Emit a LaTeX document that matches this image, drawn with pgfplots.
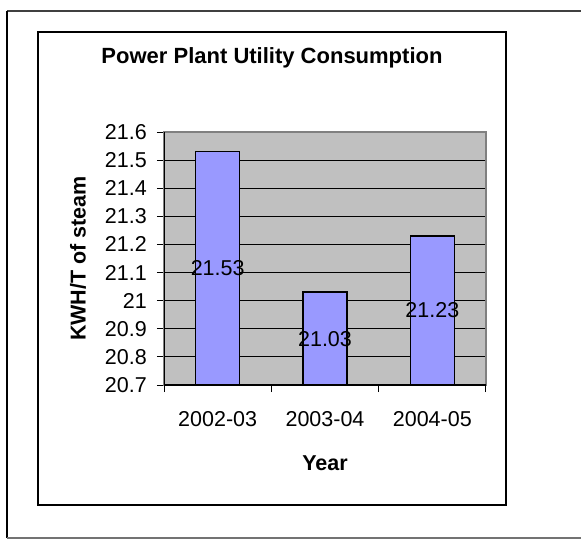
\documentclass[border=0pt]{standalone}
\usepackage{fontspec}
\setmainfont{Liberation Sans}
\usepackage{pgfplots}
\pgfplotsset{compat=1.18}
\usepackage{pgfplotstable}

\definecolor{barfill}{HTML}{9999FF}
\definecolor{plotbg}{HTML}{C0C0C0}
\newcommand{\chartfont}{\fontsize{21.5}{25}\selectfont}
\newcommand{\chartbold}{\fontsize{21.5}{25}\selectfont\bfseries}
\newcommand{\titlefont}{\fontsize{22}{26}\selectfont\bfseries}

% KWH per tonne of steam, by year
\pgfplotstableread{
x v
1 21.53
2 21.03
3 21.23
}\consumption

\begin{document}
\begin{tikzpicture}
\useasboundingbox (0pt,0pt) rectangle (581pt,539pt);
% outer frame, open on the right
\draw[line width=2pt, black!75] (581pt,528pt) -- (7pt,528pt);
\draw[line width=2pt, black] (7pt,528pt) -- (7pt,1pt);
\draw[line width=1.5pt, black!55] (7pt,1pt) -- (581pt,1pt);
% chart area
\draw[line width=1.5pt] (38pt,507pt) rectangle (506pt,34pt);

\begin{axis}[
  at={(164pt,154pt)}, anchor=south west,
  scale only axis, width=322pt, height=253pt,
  xmin=0.5, xmax=3.5, ymin=20.7, ymax=21.6,
  /pgf/number format/assume math mode=true,
  axis background/.style={fill=plotbg},
  axis line style={draw=black!50, line width=1.5pt},
  ymajorgrids, major grid style={black, line width=0.9pt},
  ytick={20.7,20.8,20.9,21,21.1,21.2,21.3,21.4,21.5,21.6},
  xtick={1,2,3}, xticklabels={2002-03,2003-04,2004-05},
  minor xtick={0.5,1.5,2.5,3.5},
  major x tick style={draw=none},
  tick align=outside, major tick length=7pt, minor tick length=7pt,
  tick style={black, line width=1pt},
  xtick pos=left, ytick pos=left,
  ticklabel style={font=\chartfont},
  xticklabel style={anchor=north, inner sep=0pt, yshift=-19pt},
  yticklabel style={anchor=east, inner sep=0pt, xshift=-10pt},
  title={Power Plant Utility Consumption},
  title style={at={(axis description cs:0.3354,1)}, anchor=base, yshift=62.7pt, inner sep=0pt, font=\titlefont},
  xlabel={Year},
  xlabel style={at={(axis description cs:0.5,0)}, anchor=base, yshift=-85.6pt, inner sep=0pt, font=\chartbold},
  ylabel={KWH/T of steam},
  ylabel style={at={(axis description cs:-0.267,0.5)}, anchor=center, inner sep=0pt, font=\chartbold},
]
\addplot[ybar, bar width=44pt, fill=barfill, draw=black, line width=1.5pt]
  table[x=x, y=v]{\consumption};
% value labels sit halfway up each bar
\addplot[draw=none, mark=none, point meta=explicit,
  nodes near coords={\pgfmathprintnumber[fixed,fixed zerofill,precision=2]{\pgfplotspointmeta}},
  every node near coord/.append style={anchor=center, inner sep=0pt, font=\chartfont, text=black}]
  table[x=x, y expr={(\thisrow{v}+20.7)/2}, meta=v]{\consumption};
\draw[black, line width=1.3pt] (rel axis cs:0,1) -- (rel axis cs:0,0) -- (rel axis cs:1,0);
\end{axis}
\end{tikzpicture}
\end{document}
